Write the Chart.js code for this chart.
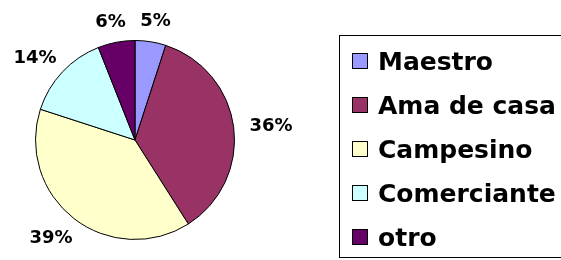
<!DOCTYPE html>
<html><head><meta charset="utf-8">
<script src="https://cdn.jsdelivr.net/npm/chart.js@4"></script>
<style>html,body{margin:0;padding:0;background:#fff}#c{display:block}</style>
</head>
<body>
<canvas id="c" width="561" height="260"></canvas>
<script>
const categories = ['Maestro', 'Ama de casa', 'Campesino', 'Comerciante', 'otro'];
const values = [5, 36, 39, 14, 6];
const colors = ['#9999FF', '#993366', '#FFFFCC', '#CCFFFF', '#660066'];

const FONT = '"DejaVu Sans", Verdana, sans-serif';

const pctLabels = {
  id: 'pctLabels',
  afterDatasetsDraw(chart) {
    const ctx = chart.ctx;
    const meta = chart.getDatasetMeta(0);
    const total = values.reduce((a, b) => a + b, 0);
    ctx.save();
    ctx.font = 'bold 18px ' + FONT;
    ctx.fillStyle = '#000';
    ctx.textAlign = 'center';
    ctx.textBaseline = 'alphabetic';
    const capH = 13;
    meta.data.forEach((arc, i) => {
      const p = arc.getProps(['x', 'y', 'startAngle', 'endAngle', 'outerRadius'], true);
      const mid = (p.startAngle + p.endAngle) / 2;
      const txt = Math.round(values[i] / total * 100) + '%';
      const w = ctx.measureText(txt).width;
      const dx = Math.cos(mid), dy = Math.sin(mid);
      const R = p.outerRadius + 16;
      const cx = p.x + dx * (R + w / 2);
      const cy = p.y + dy * (R + capH / 2);
      ctx.fillText(txt, cx, cy + capH / 2);
    });
    ctx.restore();
  }
};

const boxLegend = {
  id: 'boxLegend',
  afterDraw(chart) {
    const ctx = chart.ctx;
    ctx.save();
    ctx.strokeStyle = '#000';
    ctx.lineWidth = 1;
    ctx.strokeRect(339.5, 35.5, 240, 222);
    ctx.font = 'bold 25px ' + FONT;
    ctx.textAlign = 'left';
    ctx.textBaseline = 'alphabetic';
    categories.forEach((name, i) => {
      const cy = 61 + i * 44;
      ctx.fillStyle = colors[i];
      ctx.fillRect(352, cy - 8, 16, 16);
      ctx.strokeStyle = '#000';
      ctx.strokeRect(352.5, cy - 7.5, 15, 15);
      ctx.fillStyle = '#000';
      ctx.fillText(name, 378, cy + 9);
    });
    ctx.restore();
  }
};

new Chart(document.getElementById('c'), {
  type: 'pie',
  data: {
    labels: categories,
    datasets: [{
      data: values,
      backgroundColor: colors,
      borderColor: '#000',
      borderWidth: 1
    }]
  },
  options: {
    responsive: false,
    animation: false,
    layout: { padding: { left: 35, top: 40, right: 326, bottom: 20 } },
    plugins: { legend: { display: false }, tooltip: { enabled: false } }
  },
  plugins: [pctLabels, boxLegend]
});
</script>
</body></html>
